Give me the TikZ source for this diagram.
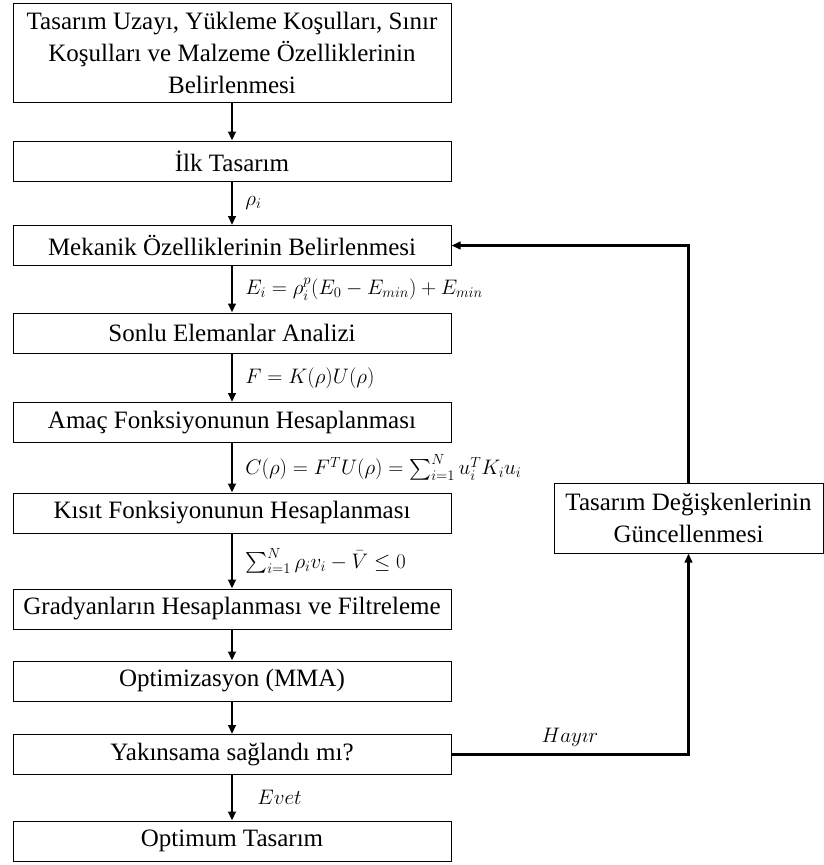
\documentclass[tikz,border=0pt]{standalone}
\usepackage{fix-cm}
\usepackage{amsmath}
\usepackage{fontspec}
\setmainfont{Liberation Serif}
\usetikzlibrary{arrows.meta}

\begin{document}
\begin{tikzpicture}[x=1pt,y=1pt,stage/.style={draw,line width=1pt,fill=white,minimum width=438pt,minimum height=40pt,inner sep=0pt,align=center,font=\fontsize{25}{32}\selectfont},flow/.style={line width=2.2pt,-{Triangle[length=9pt,width=7.5pt]}},cond/.style={midway,anchor=west,xshift=9pt,font=\fontsize{21}{25}\selectfont}]
\useasboundingbox (0,0) rectangle (824,-865);
\coordinate (S) at (232,-52.5);
\coordinate (I) at (232,-161);
\coordinate (M) at (232,-245.5);
\coordinate (A) at (232,-333);
\coordinate (O) at (232,-422.5);
\coordinate (K) at (232,-513);
\coordinate (G) at (232,-609);
\coordinate (P) at (232,-681);
\coordinate (Y) at (232,-754.5);
\coordinate (T) at (232,-841);
\coordinate (U) at (688.5,-518);
\node[stage,minimum height=99pt] (setup) at (S) {Tasarım Uzayı, Yükleme Koşulları, Sınır\\Koşulları ve Malzeme Özelliklerinin\\Belirlenmesi};
\node[stage] (init) at (I) {İlk Tasarım};
\node[stage] (mech) at (M) {Mekanik Özelliklerinin Belirlenmesi};
\node[stage] (fea) at (A) {Sonlu Elemanlar Analizi};
\node[stage] (obj) at (O) {Amaç Fonksiyonunun Hesaplanması};
\node[stage] (cons) at (K) {Kısıt Fonksiyonunun Hesaplanması};
\node[stage] (grad) at (G) {Gradyanların Hesaplanması ve Filtreleme};
\node[stage] (mma) at (P) {Optimizasyon (MMA)};
\node[stage] (conv) at (Y) {Yakınsama sağlandı mı?};
\node[stage] (final) at (T) {Optimum Tasarım};
\node[stage,minimum width=269pt,minimum height=70pt] (update) at (U) {Tasarım Değişkenlerinin\\Güncellenmesi};
\draw[flow] (setup) -- (init);
\draw[flow] (init) -- node[cond] (rho) {$\rho_i$} (mech);
\draw[flow] (mech) -- node[cond] (simp) {$E_i=\rho_i^{p}(E_0-E_{min})+E_{min}$} (fea);
\draw[flow] (fea) -- node[cond] (equil) {$F=K(\rho)U(\rho)$} (obj);
\draw[flow] (obj) -- node[cond] (compl) {$C(\rho)=F^{T}U(\rho)=\sum_{i=1}^{N}u_i^{T}K_iu_i$} (cons);
\draw[flow] (cons) -- node[cond] (vol) {$\sum_{i=1}^{N}\rho_iv_i-\bar{V}\le 0$} (grad);
\draw[flow] (grad) -- (mma);
\draw[flow] (mma) -- (conv);
\draw[flow] (conv) -- node[cond,xshift=12pt] (yes) {$Evet$} (final);
\draw[flow] (conv.east) -| node[pos=0.25,above=3pt,font=\fontsize{21}{25}\selectfont] (no) {$Hay\imath r$} (update.south);
\draw[flow] (update.north) |- (mech.east);
\end{tikzpicture}
\end{document}
